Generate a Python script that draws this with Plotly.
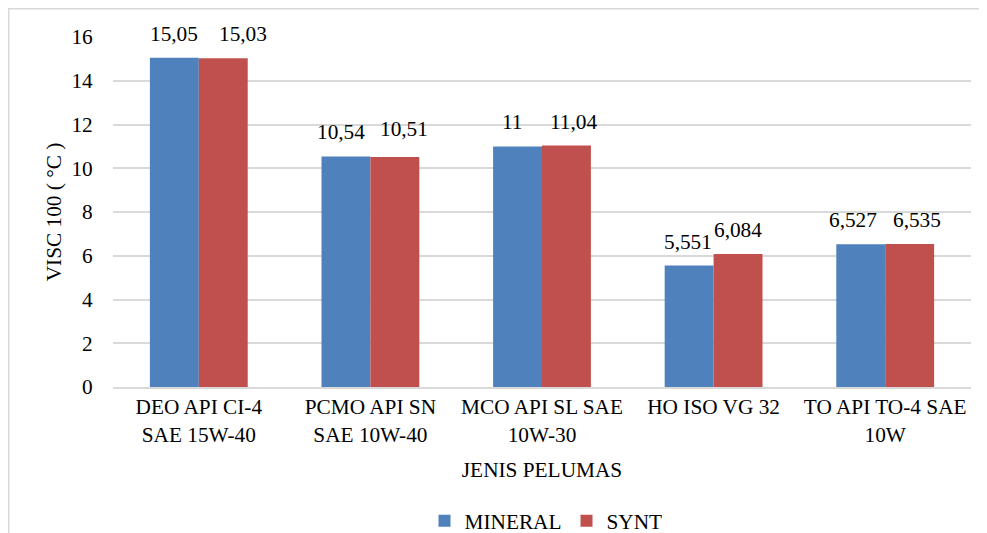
import plotly.graph_objects as go

categories = ["DEO API CI-4<br>SAE 15W-40", "PCMO API SN<br>SAE 10W-40", "MCO API SL SAE<br>10W-30",
              "HO ISO VG 32", "TO API TO-4 SAE<br>10W"]
mineral = [15.05, 10.54, 11.0, 5.551, 6.527]
synt = [15.03, 10.51, 11.04, 6.084, 6.535]
y_ticks = [0, 2, 4, 6, 8, 10, 12, 14, 16]

# small manual nudges (px) of the data labels, as in the reference
label_dx_mineral = [0, -5, -5, -1.5, -7.5]
label_dx_synt = [20, 9, 7, 0, 7]
label_dy_synt = [0, 4, 0, 0, 0]

FONT = "Liberation Serif, Times New Roman, serif"
FS = 21.3

def fmt(v):
    s = ("%.3f" % v).rstrip("0").rstrip(".")
    return s.replace(".", ",")

fig = go.Figure()
fig.add_trace(go.Bar(name="MINERAL", x=categories, y=mineral, marker_color="#4F81BD"))
fig.add_trace(go.Bar(name="SYNT", x=categories, y=synt, marker_color="#C0504D"))

# page has an 8px body margin, so figure coordinates = page coordinates - 8
OFF = 8
W, H = 987 - OFF, 533 - OFF
L, R, T, B = 113 - OFF, 16, 37 - OFF, 146
pw, ph = W - L - R, H - T - B
BARGAP = 0.43
half_bar = pw / len(categories) * (1 - BARGAP) / 4

def px(x):
    return (x - OFF - L) / pw

def py(y):
    return (H - B - (y - OFF)) / ph

for i, c in enumerate(categories):
    fig.add_annotation(x=c, y=mineral[i], text=fmt(mineral[i]), showarrow=False,
                       xanchor="center", yanchor="bottom",
                       xshift=-half_bar + label_dx_mineral[i], yshift=10,
                       font=dict(size=FS, family=FONT, color="#000000"))
    fig.add_annotation(x=c, y=synt[i], text=fmt(synt[i]), showarrow=False,
                       xanchor="center", yanchor="bottom",
                       xshift=half_bar + label_dx_synt[i], yshift=10 + label_dy_synt[i],
                       font=dict(size=FS, family=FONT, color="#000000"))

fig.add_shape(type="rect", xref="paper", yref="paper",
              x0=px(8.75), x1=px(1000), y0=py(8.75), y1=py(560),
              line=dict(color="#d9d9d9", width=1.5), fillcolor="rgba(0,0,0,0)", layer="below")

fig.update_layout(
    template="none",
    width=W, height=H,
    margin=dict(l=L, r=R, t=T, b=B, autoexpand=False),
    paper_bgcolor="white", plot_bgcolor="white",
    barmode="group", bargap=BARGAP, bargroupgap=0,
    font=dict(family=FONT, size=FS, color="#000000"),
    showlegend=True,
    legend=dict(orientation="h", x=px(546), xanchor="center", y=py(521), yanchor="middle",
                font=dict(size=FS, family=FONT), traceorder="normal", itemwidth=30,
                bgcolor="rgba(0,0,0,0)"),
    xaxis=dict(showgrid=False, showline=True, linecolor="#d9d9d9", linewidth=1.5,
               tickfont=dict(size=FS, family=FONT), ticks="", automargin=False,
               title=dict(text="JENIS PELUMAS", font=dict(size=FS, family=FONT), standoff=16)),
    yaxis=dict(range=[0, 16], tickvals=y_ticks, ticktext=[str(v) for v in y_ticks],
               showgrid=True, gridcolor="#d9d9d9", gridwidth=1.5, zeroline=False,
               showline=False, ticks="outside", ticklen=15, tickcolor="rgba(0,0,0,0)",
               tickfont=dict(size=FS, family=FONT), automargin=False,
               title=dict(text="VISC 100 ( °C )", font=dict(size=FS, family=FONT), standoff=3)),
)

fig.write_html("out.html")
